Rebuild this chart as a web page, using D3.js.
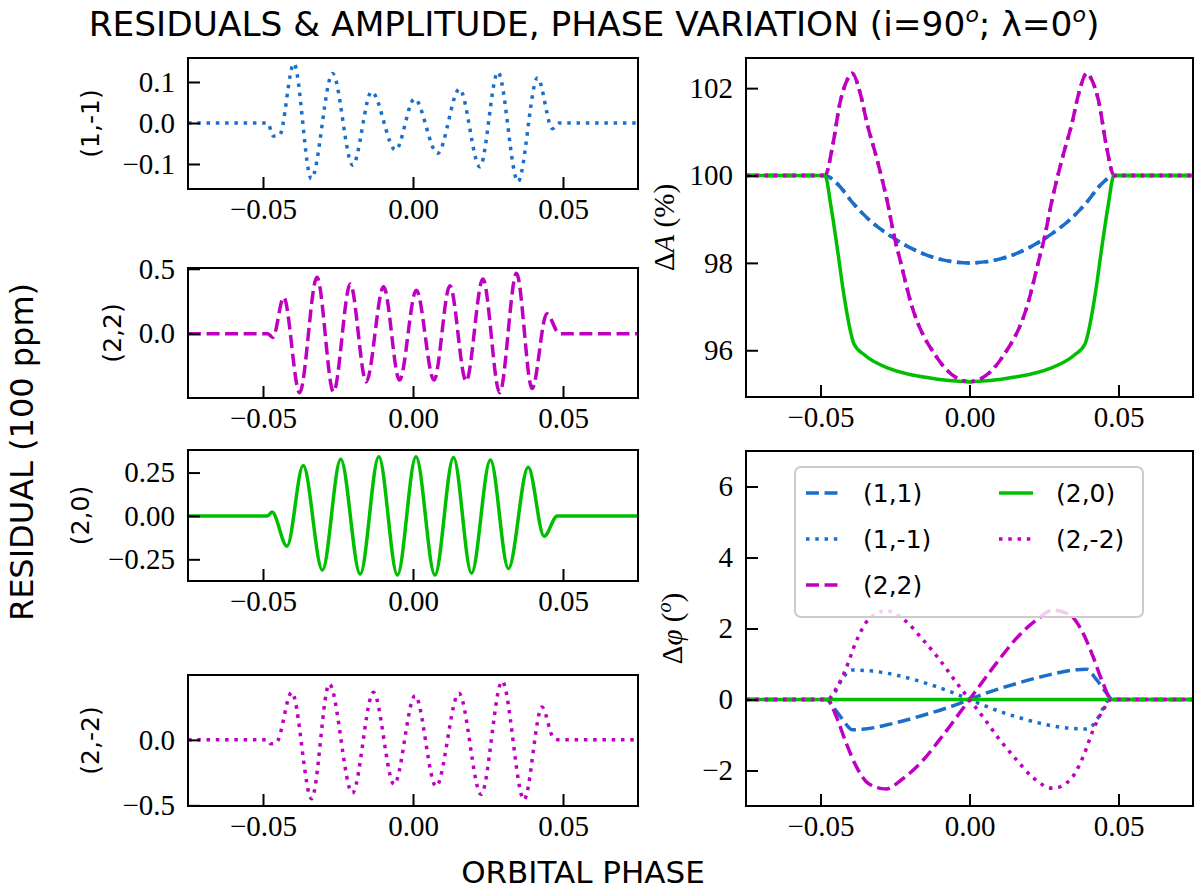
<!DOCTYPE html>
<html>
<head>
<meta charset="UTF-8">
<title>Residuals &amp; amplitude, phase variation</title>
<script src="https://cdn.jsdelivr.net/npm/d3@7"></script>
<style>
  body { margin: 0; background: #fff; }
</style>
</head>
<body>
<div id="chart"></div>
<script>
// ---- data ----
var phaseTicks = [-0.05, 0, 0.05];
var ticksRes1m1 = [-0.1, 0, 0.1];
var ticksRes22 = [0, 0.5];
var ticksRes20 = [-0.25, 0, 0.25];
var ticksRes2m2 = [-0.5, 0];
var ticksAmp = [96, 98, 100, 102];
var ticksPhi = [-2, 0, 2, 4, 6];

var modes = ["(1,1)", "(1,-1)", "(2,2)", "(2,0)", "(2,-2)"];

// residuals (100 ppm) vs orbital phase
var res1m1 = [[-0.075, 0], [-0.0485, 0], [-0.0465, -0.032], [-0.0445, -0.03], [-0.0397, 0.145],
  [-0.0339, -0.136], [-0.0268, 0.121], [-0.0201, -0.103], [-0.0138, 0.076], [-0.0058, -0.066],
  [0.0005, 0.059], [0.0082, -0.074], [0.0155, 0.083], [0.0223, -0.107], [0.0283, 0.124],
  [0.035, -0.143], [0.0415, 0.11], [0.0465, -0.014], [0.0488, 0], [0.075, 0]];
var res22 = [[-0.075, 0], [-0.0485, 0], [-0.0467, -0.029], [-0.0431, 0.28], [-0.0378, -0.455],
  [-0.032, 0.434], [-0.0265, -0.449], [-0.0209, 0.382], [-0.0156, -0.371], [-0.0098, 0.361],
  [-0.0045, -0.358], [0.0011, 0.335], [0.007, -0.358], [0.0123, 0.369], [0.0177, -0.366],
  [0.0233, 0.421], [0.0289, -0.455], [0.0345, 0.465], [0.0397, -0.423], [0.0446, 0.153],
  [0.0488, 0], [0.075, 0]];
var res20 = [[-0.075, 0], [-0.0485, 0], [-0.047, 0.022], [-0.042, -0.174], [-0.0366, 0.29],
  [-0.0302, -0.312], [-0.0241, 0.326], [-0.0176, -0.335], [-0.0114, 0.341], [-0.0052, -0.341],
  [0.001, 0.341], [0.0073, -0.341], [0.0135, 0.337], [0.0195, -0.33], [0.0258, 0.322],
  [0.0318, -0.303], [0.0384, 0.28], [0.0437, -0.117], [0.0481, 0], [0.075, 0]];
var res2m2 = [[-0.075, 0], [-0.0485, 0], [-0.0474, -0.03], [-0.0455, -0.02], [-0.0404, 0.363],
  [-0.0338, -0.45], [-0.0279, 0.426], [-0.0202, -0.406], [-0.0132, 0.363], [-0.0063, -0.34],
  [0.0007, 0.338], [0.0077, -0.355], [0.0153, 0.355], [0.0227, -0.416], [0.0297, 0.447],
  [0.037, -0.457], [0.043, 0.25], [0.0467, 0.02], [0.0488, 0], [0.075, 0]];

// amplitude variation (%)
var amp11 = [[-0.075, 100], [-0.0485, 100], [-0.0445, 99.82], [-0.039, 99.36], [-0.0334, 98.97],
  [-0.0277, 98.67], [-0.02, 98.35], [-0.0123, 98.13], [0, 98.0], [0.0123, 98.13], [0.02, 98.35],
  [0.0277, 98.67], [0.0334, 98.97], [0.039, 99.36], [0.0445, 99.82], [0.0485, 100], [0.075, 100]];
var amp22 = [[-0.075, 100], [-0.0485, 100], [-0.0458, 100.73], [-0.0435, 101.65], [-0.0411, 102.18],
  [-0.0394, 102.34], [-0.0367, 101.89], [-0.0344, 101.2], [-0.031, 100.36], [-0.0277, 99.44],
  [-0.025, 98.53], [-0.0233, 98.07], [-0.0196, 97.07], [-0.0111, 95.85], [0, 95.28],
  [0.0111, 95.85], [0.0196, 97.07], [0.0233, 98.07], [0.025, 98.53], [0.0277, 99.44],
  [0.031, 100.36], [0.0344, 101.2], [0.0367, 101.89], [0.0394, 102.34], [0.0411, 102.18],
  [0.0435, 101.65], [0.0458, 100.73], [0.0485, 100], [0.075, 100]];
var amp20 = [[-0.075, 100], [-0.0485, 100], [-0.0465, 99.3], [-0.0445, 98.4], [-0.042, 97.2],
  [-0.04, 96.45], [-0.0388, 96.15], [-0.035, 95.88], [-0.0268, 95.58], [-0.0147, 95.38],
  [0, 95.28], [0.0147, 95.38], [0.0268, 95.58], [0.035, 95.88], [0.0388, 96.15], [0.04, 96.45],
  [0.042, 97.2], [0.0445, 98.4], [0.0465, 99.3], [0.0485, 100], [0.075, 100]];

// phase variation (deg)
var phi11 = [[-0.075, 0], [-0.048, 0], [-0.046, -0.18], [-0.0427, -0.55], [-0.0393, -0.85],
  [-0.036, -0.84], [-0.027, -0.7], [-0.0158, -0.45], [-0.0046, -0.15], [0, 0], [0.0046, 0.15],
  [0.0158, 0.45], [0.027, 0.7], [0.036, 0.84], [0.0393, 0.85], [0.0427, 0.55], [0.046, 0.18],
  [0.048, 0], [0.075, 0]];
var phi1m1 = [[-0.075, 0], [-0.047, 0], [-0.0448, 0.25], [-0.0427, 0.58], [-0.0393, 0.83],
  [-0.0326, 0.8], [-0.0158, 0.49], [-0.0046, 0.16], [0, 0], [0.0046, -0.16], [0.0158, -0.49],
  [0.0326, -0.8], [0.0393, -0.83], [0.0427, -0.58], [0.0448, -0.25], [0.047, 0], [0.075, 0]];
var phi22 = [[-0.075, 0], [-0.0477, 0], [-0.0448, -0.46], [-0.0415, -1.2], [-0.0381, -1.87],
  [-0.0337, -2.38], [-0.028, -2.52], [-0.0225, -2.24], [-0.0158, -1.73], [-0.0091, -1.03],
  [0, 0], [0.0091, 1.03], [0.0158, 1.73], [0.0225, 2.24], [0.028, 2.52], [0.0337, 2.38],
  [0.0381, 1.87], [0.0415, 1.2], [0.0448, 0.46], [0.0477, 0], [0.075, 0]];
var phi20 = [[-0.075, 0], [0.075, 0]];
var phi2m2 = [[-0.075, 0], [-0.0477, 0], [-0.0448, 0.3], [-0.0415, 0.86], [-0.0381, 1.62],
  [-0.0337, 2.27], [-0.028, 2.5], [-0.0213, 2.2], [-0.0158, 1.7], [-0.0102, 1.14],
  [-0.0046, 0.5], [0, 0], [0.0046, -0.5], [0.0102, -1.14], [0.0158, -1.7], [0.0213, -2.2],
  [0.028, -2.5], [0.0337, -2.27], [0.0381, -1.62], [0.0415, -0.86], [0.0448, -0.3],
  [0.0477, 0], [0.075, 0]];

// ---- styles ----
var LW = 3.5;
var BLUE = "#1a6fca", MAGENTA = "#bf00c2", GREEN = "#00bf00";
var DASHED = (3.7 * LW) + "," + (1.6 * LW);
var DOTTED = (1 * LW) + "," + (1.65 * LW);
var styles = {
  "(1,1)":  { color: BLUE, dash: DASHED },
  "(1,-1)": { color: BLUE, dash: DOTTED },
  "(2,2)":  { color: MAGENTA, dash: DASHED },
  "(2,0)":  { color: GREEN, dash: null },
  "(2,-2)": { color: MAGENTA, dash: DOTTED }
};
var TICK_FONT = "'Liberation Serif', 'Times New Roman', serif";
var SANS = "'DejaVu Sans', Verdana, sans-serif";

var svg = d3.select("#chart").append("svg")
  .attr("width", 1200)
  .attr("height", 890);

var panels = [
  { x: [188, 638], y: [58, 189], dom: [-0.161, 0.1585], ticks: ticksRes1m1, fmt: ".1f",
    series: [["(1,-1)", res1m1]], label: "(1,-1)", labelX: 90 },
  { x: [188, 638], y: [268, 398], dom: [-0.496, 0.506], ticks: ticksRes22, fmt: ".1f",
    series: [["(2,2)", res22]], label: "(2,2)", labelX: 112 },
  { x: [188, 638], y: [450, 581], dom: [-0.375, 0.38], ticks: ticksRes20, fmt: ".2f",
    series: [["(2,0)", res20]], label: "(2,0)", labelX: 80 },
  { x: [188, 638], y: [675, 806], dom: [-0.505, 0.495], ticks: ticksRes2m2, fmt: ".1f",
    series: [["(2,-2)", res2m2]], label: "(2,-2)", labelX: 90 },
  { x: [746, 1193], y: [58, 397], dom: [94.93, 102.69], ticks: ticksAmp, fmt: "d",
    series: [["(1,1)", amp11], ["(1,-1)", amp11], ["(2,2)", amp22], ["(2,0)", amp20], ["(2,-2)", amp22]],
    math: "amp", labelX: 664 },
  { x: [746, 1193], y: [451, 806], dom: [-3, 7], ticks: ticksPhi, fmt: "d",
    series: [["(1,1)", phi11], ["(1,-1)", phi1m1], ["(2,2)", phi22], ["(2,0)", phi20], ["(2,-2)", phi2m2]],
    math: "phi", labelX: 672, legend: true }
];

panels.forEach(function (p, i) {

  var x = d3.scaleLinear().domain([-0.075, 0.075]).range(p.x);
  var y = d3.scaleLinear().domain(p.dom).range([p.y[1], p.y[0]]);
  var g = svg.append("g");

  g.append("clipPath").attr("id", "clip" + i)
    .append("rect")
    .attr("x", p.x[0]).attr("y", p.y[0])
    .attr("width", p.x[1] - p.x[0]).attr("height", p.y[1] - p.y[0]);

  var line = d3.line()
    .x(function (d) { return x(d[0]); })
    .y(function (d) { return y(d[1]); })
    .curve(d3.curveMonotoneX);

  var lines = g.append("g").attr("clip-path", "url(#clip" + i + ")");
  p.series.forEach(function (s) {
    var st = styles[s[0]];
    lines.append("path")
      .datum(s[1])
      .attr("d", line)
      .attr("fill", "none")
      .attr("stroke", st.color)
      .attr("stroke-width", LW)
      .attr("stroke-dasharray", st.dash)
      .attr("stroke-linejoin", "round");
  });

  // axes, ticks pointing inwards
  var ax = g.append("g")
    .attr("transform", "translate(0," + p.y[1] + ")")
    .call(d3.axisBottom(x).tickValues(phaseTicks).tickFormat(d3.format(".2f"))
      .tickSize(-12).tickPadding(9));
  var ay = g.append("g")
    .attr("transform", "translate(" + p.x[0] + ",0)")
    .call(d3.axisLeft(y).tickValues(p.ticks).tickFormat(d3.format(p.fmt))
      .tickSize(-12).tickPadding(13));
  [ax, ay].forEach(function (a) {
    a.select(".domain").remove();
    a.selectAll(".tick line").attr("stroke", "#000").attr("stroke-width", 2);
    a.selectAll(".tick text")
      .attr("fill", "#000")
      .style("font-family", TICK_FONT)
      .style("font-size", "29px");
  });

  g.append("rect")
    .attr("x", p.x[0]).attr("y", p.y[0])
    .attr("width", p.x[1] - p.x[0]).attr("height", p.y[1] - p.y[0])
    .attr("fill", "none").attr("stroke", "#000").attr("stroke-width", 2);

  var cy = (p.y[0] + p.y[1]) / 2;
  if (p.label) {
    g.append("text")
      .attr("transform", "translate(" + p.labelX + "," + cy + ") rotate(-90)")
      .attr("text-anchor", "middle")
      .attr("dy", "0.35em")
      .style("font-family", SANS)
      .style("font-size", "25px")
      .text(p.label);
  } else {
    var t = g.append("text")
      .attr("transform", "translate(" + p.labelX + "," + cy + ") rotate(-90)")
      .attr("text-anchor", "middle")
      .attr("dy", "0.35em")
      .style("font-family", TICK_FONT)
      .style("font-size", "29px");
    t.append("tspan").text("\u0394");
    if (p.math === "amp") {
      t.append("tspan").style("font-style", "italic").text("A");
      t.append("tspan").text(" (%)");
    } else {
      t.append("tspan").style("font-style", "italic").text("\u03c6");
      t.append("tspan").text(" (");
      t.append("tspan").attr("dy", -11).style("font-style", "italic").style("font-size", "20px").text("o");
      t.append("tspan").attr("dy", 11).text(")");
    }
  }

  if (p.legend) {
    var lg = g.append("g");
    lg.append("rect")
      .attr("x", 795).attr("y", 467).attr("width", 348).attr("height", 150)
      .attr("rx", 6).attr("ry", 6)
      .attr("fill", "#fff").attr("fill-opacity", 0.8)
      .attr("stroke", "#cccccc").attr("stroke-width", 2);
    var colX = [806, 999], rowY = [493, 539, 585];
    modes.forEach(function (m, k) {
      var cx = colX[Math.floor(k / 3)], ry = rowY[k % 3], st = styles[m];
      lg.append("line")
        .attr("x1", cx).attr("x2", cx + 34).attr("y1", ry).attr("y2", ry)
        .attr("stroke", st.color).attr("stroke-width", LW)
        .attr("stroke-dasharray", st.dash);
      lg.append("text")
        .attr("x", cx + 57).attr("y", ry)
        .attr("dy", "0.36em")
        .style("font-family", SANS)
        .style("font-size", "25px")
        .text(m);
    });
  }
});

// figure labels
var title = svg.append("text")
  .attr("x", 594).attr("y", 36)
  .attr("text-anchor", "middle")
  .style("font-family", SANS)
  .style("font-size", "34.4px");
title.append("tspan").text("RESIDUALS & AMPLITUDE, PHASE VARIATION (i=90");
title.append("tspan").attr("dy", -14).style("font-style", "italic").style("font-size", "22px").text("o");
title.append("tspan").attr("dy", 14).text("; \u03bb=0");
title.append("tspan").attr("dy", -14).style("font-style", "italic").style("font-size", "22px").text("o");
title.append("tspan").attr("dy", 14).text(")");

svg.append("text")
  .attr("transform", "translate(33,452) rotate(-90)")
  .attr("text-anchor", "middle")
  .style("font-family", SANS)
  .style("font-size", "32px")
  .text("RESIDUAL (100 ppm)");

svg.append("text")
  .attr("x", 583).attr("y", 883)
  .attr("text-anchor", "middle")
  .style("font-family", SANS)
  .style("font-size", "31px")
  .text("ORBITAL PHASE");
</script>
</body>
</html>
